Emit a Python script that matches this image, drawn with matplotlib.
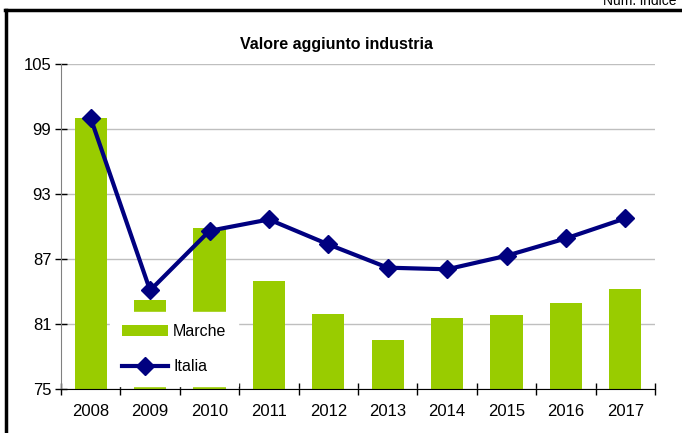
import numpy as np
import matplotlib.pyplot as plt
from matplotlib.lines import Line2D

plt.rcParams['font.family'] = ['Liberation Sans', 'DejaVu Sans']

# dati
anni = ['2008', '2009', '2010', '2011', '2012', '2013', '2014', '2015', '2016', '2017']
marche = [100.0, 83.2, 89.9, 85.0, 81.9, 79.5, 81.6, 81.8, 82.9, 84.2]
italia = [100.0, 84.1, 89.6, 90.65, 88.35, 86.2, 86.05, 87.3, 88.9, 90.75]
y_ticks = [75, 81, 87, 93, 99, 105]

fig = plt.figure(figsize=(6.82, 4.33), dpi=100)
ax = fig.add_axes([61/682, 44/433, 594/682, 325/433])

x = np.arange(len(anni))
barre = ax.bar(x, marche, width=0.54, color='#99CC00', label='Marche', zorder=2)
linea, = ax.plot(x, italia, color='#000080', lw=3, marker='D', markersize=9,
                 label='Italia', zorder=3)

ax.set_ylim(75, 105)
ax.set_xlim(-0.5, len(anni) - 0.5)
ax.set_yticks(y_ticks)
ax.yaxis.grid(True, color='#BFBFBF', lw=1)
ax.set_axisbelow(True)

ax.set_xticks(x)
ax.set_xticklabels(anni)
ax.set_xticks(np.arange(-0.5, len(anni)), minor=True)
ax.tick_params(axis='x', which='major', length=0, labelsize=12, pad=11)
ax.tick_params(axis='x', which='minor', direction='inout', length=8, width=1)
ax.tick_params(axis='y', direction='inout', length=8, width=1, labelsize=12, pad=3,
               color='black')

ax.spines['top'].set_visible(False)
ax.spines['right'].set_visible(False)
ax.spines['left'].set_color('#808080')
ax.spines['bottom'].set_color('black')

leg = ax.legend([barre, linea], ['Marche', 'Italia'], loc='upper left',
                bbox_to_anchor=(0.0825, 0.236), frameon=True,
                fancybox=False, edgecolor='white', facecolor='white', framealpha=1,
                fontsize=11.5, handlelength=2.9, labelspacing=1.25,
                borderpad=0.75, handletextpad=0.3, borderaxespad=0)
leg.set_zorder(5)

fig.text(337/682, 1 - 45/433, 'Valore aggiunto industria', ha='center',
         va='center', fontsize=11.5, fontweight='bold')
fig.text(603/682, 1 - 5/433, 'Num. indice', ha='left', va='baseline', fontsize=10)

# cornice
fig.add_artist(Line2D([5/682, 1], [1 - 10/433, 1 - 10/433], color='black', lw=2.5))
fig.add_artist(Line2D([6/682, 6/682], [0, 1 - 10/433], color='black', lw=2.5))

fig.savefig('out.png', dpi=100)
